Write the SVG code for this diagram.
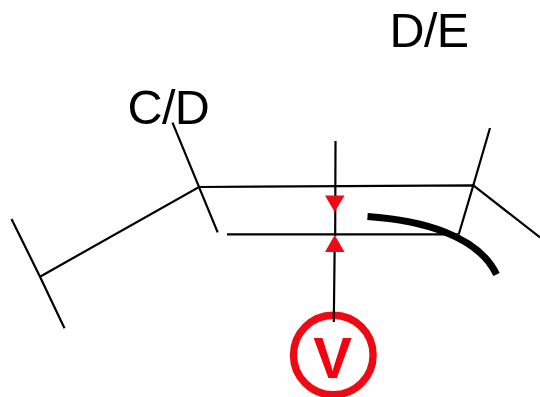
<svg xmlns="http://www.w3.org/2000/svg" width="540" height="397" viewBox="0 0 540 397">
<style>
.l{fill:none;stroke:#000;stroke-width:2.2}
.t{font-family:"Liberation Sans",Arial,sans-serif;font-size:48.5px;fill:#000;letter-spacing:-0.6px}
.r{fill:#ee0a14;stroke:none}
</style>
<rect width="540" height="397" fill="#fff"/>
<g id="node-v"><circle cx="333.3" cy="355" r="39.8" fill="#fff" stroke="#ee0a14" stroke-width="7.4"/>
<text x="332.5" y="378" text-anchor="middle" style="font-family:'Liberation Sans',Arial,sans-serif;font-size:58px;font-weight:bold;fill:#f5000f">V</text></g>
<g id="connectors">
<path class="l" d="M11.5 219L40 276.7L64.5 328.3M40 276.7L199 187L217.7 232.3M172.5 122.7L199 187L473.3 185.3L458.7 234.5M227 234.3L458 234.3M490 128L473.3 185.3L540 237.5"/>
<path class="l" d="M335.5 141L335.2 236M334.6 252L333.8 322"/>
<path d="M367.5 216.5C420 220 478 235 496.5 274.5" fill="none" stroke="#000" stroke-width="7"/>
<polygon class="r" points="325,195.5 344.5,195.5 334.7,212"/>
<polygon class="r" points="325,252 344.5,252 334.7,235"/>
</g>
<g id="label-cd"><text class="t" x="127.5" y="124">C/D</text></g>
<g id="label-de"><text class="t" x="389.5" y="47">D/E</text></g>
</svg>
